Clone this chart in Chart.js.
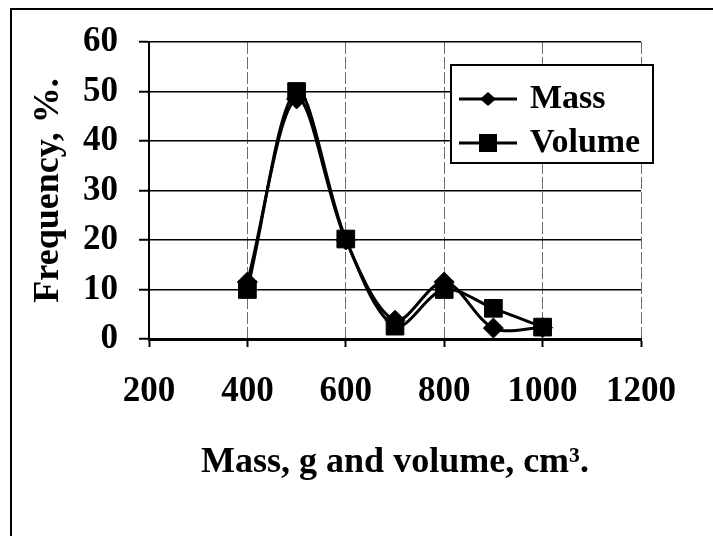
<!DOCTYPE html>
<html>
<head>
<meta charset="utf-8">
<script src="https://cdn.jsdelivr.net/npm/chart.js@4.4.1/dist/chart.umd.min.js"></script>
<style>
  html, body { margin: 0; padding: 0; background: #fff; }
  #wrap { position: relative; width: 713px; height: 536px; overflow: hidden; }
  #frame { position: absolute; left: 10px; top: 8px; right: -5px; bottom: -5px;
           border-top: 2px solid #000; border-left: 2px solid #000; }
  #box { position: absolute; left: 0; top: 0; width: 713px; height: 536px; }
</style>
</head>
<body>
<div id="wrap">
  <div id="frame"></div>
  <div id="box"><canvas id="grafica"></canvas></div>
</div>
<script>
// ── DATOS ───────────────────────────────────────────────────
const sizes      = [400, 500, 600, 700, 800, 900, 1000];
const massFreq   = [11.5, 48.5, 20, 3.8, 11.5, 2.2, 2.3];
const volumeFreq = [10, 50, 20.2, 2.6, 10, 6.2, 2.4];
const seriesNames = ['Mass', 'Volume'];
const xTicks = [200, 400, 600, 800, 1000, 1200];
const yTicks = [0, 10, 20, 30, 40, 50, 60];

const serif = "'Liberation Serif', 'Times New Roman', serif";

// icono de leyenda: línea con marcador (estilo Excel)
function legendIcon(shape) {
    const c = document.createElement('canvas');
    c.width = 58; c.height = 22;
    const g = c.getContext('2d');
    g.strokeStyle = '#000';
    g.lineWidth = 3;
    g.beginPath(); g.moveTo(0, 11); g.lineTo(58, 11); g.stroke();
    g.fillStyle = '#000';
    if (shape === 'diamond') {
        g.beginPath();
        g.moveTo(29, 4); g.lineTo(37, 11); g.lineTo(29, 18); g.lineTo(21, 11);
        g.closePath(); g.fill();
    } else {
        g.fillRect(20, 2, 18, 18);
    }
    return c;
}
const icons = [legendIcon('diamond'), legendIcon('square')];

// leyenda dentro del área, con marco blanco
const legendFrame = {
    id: 'legendFrame',
    afterLayout(chart) {
        const lg = chart.legend;
        lg.left = 453; lg.top = 72;
        lg.right = 713; lg.bottom = 400;
    },
    afterDraw(chart) {
        const ctx = chart.ctx;
        ctx.save();
        ctx.fillStyle = '#fff';
        ctx.fillRect(451, 65, 202, 98);
        ctx.lineWidth = 2;
        ctx.strokeStyle = '#000';
        ctx.strokeRect(451, 65, 202, 98);
        ctx.restore();
        chart.legend.draw();
    }
};

const toXY = vals => sizes.map((s, i) => ({ x: s, y: vals[i] }));

new Chart(document.getElementById('grafica'), {
    type: 'line',
    data: {
        datasets: [
            {
                label: seriesNames[0],
                data: toXY(massFreq),
                borderColor: '#000',
                backgroundColor: '#000',
                borderWidth: 3,
                pointStyle: 'rectRot',
                pointRadius: 10,
                pointBorderWidth: 1,
                tension: 0.33,
                order: 1
            },
            {
                label: seriesNames[1],
                data: toXY(volumeFreq),
                borderColor: '#000',
                backgroundColor: '#000',
                borderWidth: 3,
                pointStyle: 'rect',
                pointRadius: 12.5,
                pointBorderWidth: 1,
                tension: 0.33,
                order: 0
            }
        ]
    },
    options: {
        responsive: true,
        maintainAspectRatio: false,
        animation: false,
        layout: { padding: { left: 0, top: 39, right: 72, bottom: 0 } },
        plugins: {
            tooltip: { enabled: false },
            legend: {
                position: 'chartArea',
                align: 'start',
                labels: {
                    usePointStyle: true,
                    pointStyleWidth: 50,
                    padding: 10,
                    color: '#000',
                    font: { family: serif, size: 34, weight: 'bold' },
                    sort: (a, b) => a.datasetIndex - b.datasetIndex,
                    generateLabels(chart) {
                        const items = Chart.defaults.plugins.legend.labels.generateLabels(chart);
                        items.forEach(it => { it.pointStyle = icons[it.datasetIndex]; });
                        return items;
                    }
                }
            }
        },
        scales: {
            x: {
                type: 'linear',
                min: 200,
                max: 1200,
                afterFit: s => { s.height = 197; },
                afterBuildTicks: s => { s.ticks = xTicks.map(v => ({ value: v })); },
                grid: { color: '#6a6a6a', lineWidth: 1, tickColor: '#000', tickWidth: 2, tickLength: 8 },
                border: { color: '#000', width: 3, dash: [12, 3] },
                ticks: {
                    color: '#000',
                    padding: 24,
                    maxRotation: 0,
                    callback: v => String(v),
                    font: { family: serif, size: 35, weight: 'bold' }
                },
                title: {
                    display: true,
                    text: 'Mass, g and volume, cm³.',
                    color: '#000',
                    padding: { top: 0, bottom: 52 },
                    font: { family: serif, size: 36, weight: 'bold' }
                }
            },
            y: {
                min: 0,
                max: 60,
                afterFit: s => { s.width = 149; },
                afterBuildTicks: s => { s.ticks = yTicks.map(v => ({ value: v })); },
                grid: { color: '#000', lineWidth: 1.5, tickColor: '#000', tickWidth: 2, tickLength: 10 },
                border: { color: '#000', width: 2 },
                ticks: {
                    color: '#000',
                    padding: 21,
                    callback: v => String(v),
                    font: { family: serif, size: 35, weight: 'bold' }
                },
                title: {
                    display: true,
                    text: 'Frequency, %.',
                    color: '#000',
                    padding: { top: 27, bottom: 0 },
                    font: { family: serif, size: 36, weight: 'bold' }
                }
            }
        }
    },
    plugins: [legendFrame]
});
</script>
</body>
</html>
